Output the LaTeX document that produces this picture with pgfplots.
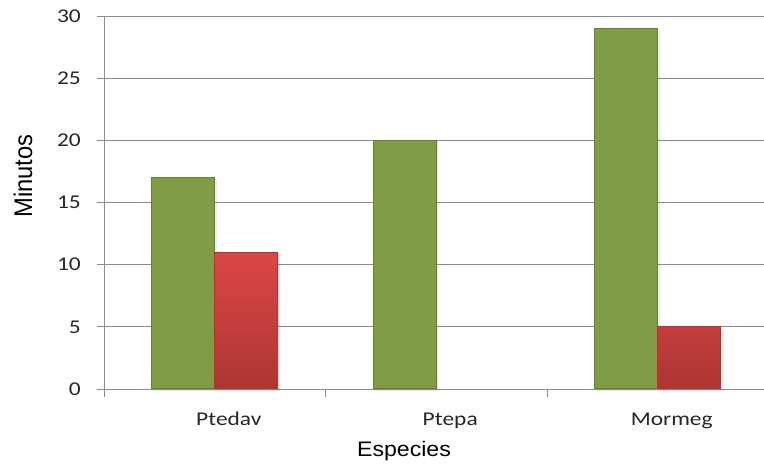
\documentclass[border=0pt]{standalone}
\usepackage{pgfplots}
\pgfplotsset{compat=1.18}
\usepackage{fontspec}
\setmainfont{Carlito}
\newfontfamily\labelfont{Liberation Sans}
\usetikzlibrary{shadows}

\definecolor{gridgray}{HTML}{8C8C8C}
\definecolor{barGreen}{HTML}{809D45}
\definecolor{barGreenEdge}{HTML}{66812F}
\definecolor{barRedTop}{HTML}{DC4745}
\definecolor{barRedBot}{HTML}{AD3533}

\begin{document}
\begin{tikzpicture}[x=1pt,y=1pt]
\path[use as bounding box] (0,0) rectangle (764,468);
\begin{axis}[
  at={(104pt,79pt)}, anchor=south west,
  scale only axis,
  width=660pt, height=373pt,
  xmin=-0.5, xmax=2.48,
  ymin=0, ymax=30,
  ytick={0,5,10,15,20,25,30},
  xtick={0,1,2},
  xticklabels={\scalebox{1.2}[1]{Ptedav},\scalebox{1.2}[1]{Ptepa},\scalebox{1.2}[1]{Mormeg}},
  minor xtick={-0.5,0.5,1.5},
  axis x line*=bottom,
  axis y line*=left,
  axis line style={gridgray, line width=0.9pt},
  tick align=outside,
  major tick length=7pt,
  minor tick length=8pt,
  every major x tick/.append style={draw=none},
  every minor x tick/.append style={gridgray, line width=0.9pt},
  every major y tick/.append style={gridgray, line width=0.9pt},
  ymajorgrids,
  major grid style={gridgray, line width=0.9pt},
  /pgf/number format/assume math mode=true,
  yticklabel={\scalebox{1.2}[1]{\pgfmathprintnumber{\tick}}},
  yticklabel style={font=\fontsize{19.5}{20}\selectfont, text=black!85,
    anchor=east, inner sep=0pt, xshift=-16pt},
  xticklabel style={font=\fontsize{19.5}{20}\selectfont, text=black!85,
    anchor=base, inner sep=0pt, xshift=14pt, yshift=-30pt},
  ybar=0pt,
  bar width=63pt,
  clip=false,
]
% Tiempo por especie: primera serie (verde)
\addplot[draw=barGreenEdge, line width=1pt, fill=barGreen,
  drop shadow={shadow xshift=1.5pt, shadow yshift=-1.5pt, opacity=0.12}]
  coordinates {(0,17) (1,20) (2,29)};
% Segunda serie (roja); Ptepa sin valor
\addplot[draw=barRedBot, line width=1pt,
  top color=barRedTop, bottom color=barRedBot,
  drop shadow={shadow xshift=1.5pt, shadow yshift=-1.5pt, opacity=0.12}]
  coordinates {(0,11) (2,5)};
\end{axis}
\node[font=\labelfont\fontsize{21}{22}\selectfont, anchor=base, inner sep=0pt]
  at (404,11) {\scalebox{1.1}[1]{Especies}};
\node[font=\labelfont\fontsize{22}{23}\selectfont, rotate=90, inner sep=0pt]
  at (23,292) {\scalebox{1.08}[1.16]{Minutos}};
\end{tikzpicture}
\end{document}
